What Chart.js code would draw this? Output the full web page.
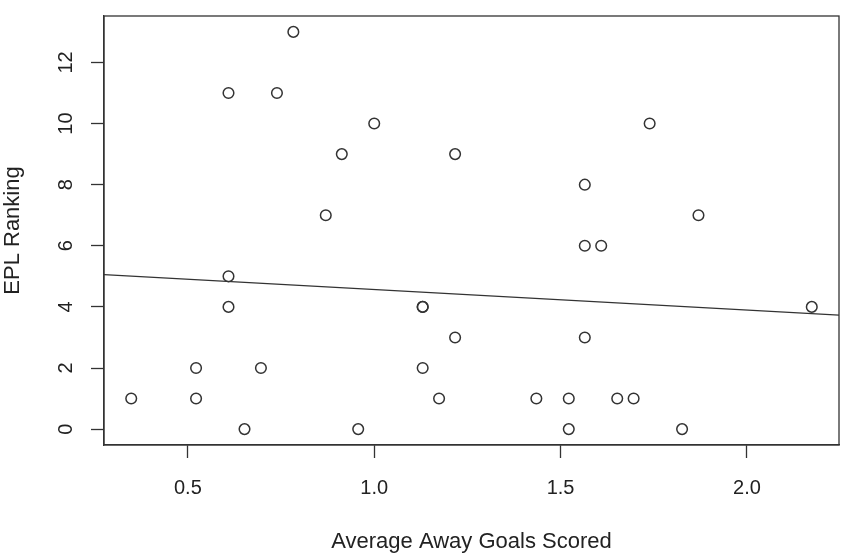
<!DOCTYPE html>
<html>
<head>
<meta charset="utf-8">
<script src="https://cdn.jsdelivr.net/npm/chart.js@4.4.1/dist/chart.umd.min.js"></script>
<style>
  html, body { margin: 0; padding: 0; background: #fff; }
</style>
</head>
<body>
<canvas id="chart" width="866" height="560"></canvas>
<script>
// Average away goals scored per team and its EPL ranking
const awayGoals = [0.348, 0.522, 0.522, 0.609, 0.609, 0.609, 0.652, 0.696, 0.739, 0.783, 0.870,
  0.913, 0.957, 1.000, 1.130, 1.130, 1.130, 1.174, 1.217, 1.217, 1.435, 1.522, 1.522, 1.565,
  1.565, 1.565, 1.609, 1.652, 1.696, 1.739, 1.826, 1.870, 2.174];
const eplRanking = [1, 2, 1, 11, 5, 4, 0, 2, 11, 13, 7,
  9, 0, 10, 4, 4, 2, 1, 9, 3, 1, 1, 0, 8,
  6, 3, 6, 1, 1, 10, 0, 7, 4];

// Axis ticks
const xTicks = [0.5, 1.0, 1.5, 2.0];
const xTickLabels = ["0.5", "1.0", "1.5", "2.0"];
const yTicks = [0, 2, 4, 6, 8, 10, 12];

const INK = "#333";
const FONT = '"Liberation Sans", Arial, Helvetica, sans-serif';

// least squares fit, like abline(lm(y ~ x)) in R
function fitLine(xs, ys) {
  const n = xs.length;
  const mx = xs.reduce((a, b) => a + b, 0) / n;
  const my = ys.reduce((a, b) => a + b, 0) / n;
  let sxy = 0, sxx = 0;
  for (let i = 0; i < n; i++) {
    sxy += (xs[i] - mx) * (ys[i] - my);
    sxx += (xs[i] - mx) * (xs[i] - mx);
  }
  const slope = sxy / sxx;
  return { slope: slope, intercept: my - slope * mx };
}

// R pads the data range by 4% on each side
function padRange(vals) {
  const lo = Math.min(...vals), hi = Math.max(...vals);
  const d = (hi - lo) * 0.04;
  return [lo - d, hi + d];
}

const [xMin, xMax] = padRange(awayGoals);
const [yMin, yMax] = padRange(eplRanking);
const fit = fitLine(awayGoals, eplRanking);

const points = awayGoals.map((x, i) => ({ x: x, y: eplRanking[i] }));
const fitPoints = [xMin, xMax].map((x) => ({ x: x, y: fit.intercept + fit.slope * x }));

// box round the plot and the rotated y tick labels
const rFrame = {
  id: "rFrame",
  afterDraw(chart) {
    const { ctx, chartArea: a, scales } = chart;
    ctx.save();
    ctx.strokeStyle = INK;
    ctx.lineWidth = 1.3;
    ctx.strokeRect(a.left, a.top, a.right - a.left, a.bottom - a.top);
    ctx.fillStyle = "#222";
    ctx.font = "20px " + FONT;
    ctx.textAlign = "center";
    ctx.textBaseline = "middle";
    yTicks.forEach((v) => {
      const y = scales.y.getPixelForValue(v);
      ctx.save();
      ctx.translate(a.left - 38, y);
      ctx.rotate(-Math.PI / 2);
      ctx.fillText(String(v), 0, 0);
      ctx.restore();
    });
    ctx.restore();
  },
};

new Chart(document.getElementById("chart"), {
  type: "scatter",
  data: {
    datasets: [
      {
        data: points,
        pointStyle: "circle",
        pointRadius: 5.3,
        pointBorderWidth: 1.5,
        pointBorderColor: INK,
        pointBackgroundColor: "rgba(0,0,0,0)",
        showLine: false,
      },
      {
        type: "line",
        data: fitPoints,
        borderColor: INK,
        borderWidth: 1.3,
        pointRadius: 0,
        fill: false,
      },
    ],
  },
  options: {
    responsive: false,
    animation: false,
    layout: { padding: { top: 16, right: 27, left: 0, bottom: 0 } },
    plugins: { legend: { display: false }, tooltip: { enabled: false } },
    scales: {
      x: {
        type: "linear",
        min: xMin,
        max: xMax,
        afterBuildTicks: (s) => { s.ticks = xTicks.map((v) => ({ value: v })); },
        afterFit: (s) => { s.height = 115; },
        grid: { drawOnChartArea: false, tickLength: 13, tickColor: INK, tickWidth: 1.3 },
        border: { display: true, color: INK, width: 1.3 },
        ticks: {
          autoSkip: false,
          maxRotation: 0,
          padding: 18,
          color: "#222",
          font: { family: FONT, size: 20 },
          callback: (v, i) => xTickLabels[i],
        },
        title: {
          display: true,
          text: "Average Away Goals Scored",
          color: "#222",
          font: { family: FONT, size: 22 },
          padding: { top: 0, bottom: 5 },
        },
      },
      y: {
        type: "linear",
        min: yMin,
        max: yMax,
        afterBuildTicks: (s) => { s.ticks = yTicks.map((v) => ({ value: v })); },
        afterFit: (s) => { s.width = 104; },
        grid: { drawOnChartArea: false, tickLength: 13, tickColor: INK, tickWidth: 1.3 },
        border: { display: true, color: INK, width: 1.3 },
        ticks: { display: false },
        title: {
          display: true,
          text: "EPL Ranking",
          color: "#222",
          font: { family: FONT, size: 22 },
          padding: { top: 0, bottom: 0 },
        },
      },
    },
  },
  plugins: [rFrame],
});
</script>
</body>
</html>
